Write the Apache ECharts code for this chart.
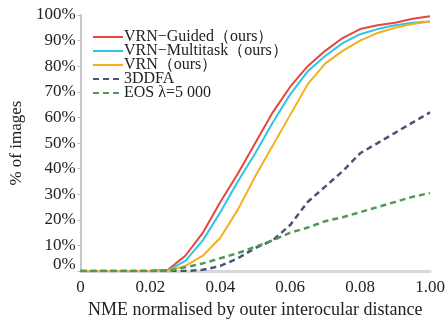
<!DOCTYPE html>
<html>
<head>
<meta charset="utf-8">
<script src="https://cdn.jsdelivr.net/npm/echarts@6/dist/echarts.min.js"></script>
<style>html,body{margin:0;padding:0;background:#fff}#c{width:448px;height:324px}</style>
</head>
<body>
<div id="c"></div>
<script>
const xValues = [0, 0.005, 0.01, 0.015, 0.02, 0.025, 0.03, 0.035, 0.04, 0.045, 0.05, 0.055, 0.06, 0.065, 0.07, 0.075, 0.08, 0.085, 0.09, 0.095, 0.1];
const vrnGuided    = [0, 0, 0, 0, 0, 0.5, 6, 15, 27, 38, 50, 62, 72, 80, 86, 91, 94.5, 96, 97, 98.5, 99.5];
const vrnMultitask = [0, 0, 0, 0, 0, 0.3, 4, 12, 23, 35, 46, 58, 69, 78, 84, 89, 92.5, 94.5, 96, 97, 97.5];
const vrn          = [0, 0, 0, 0, 0, 0.2, 2, 6, 13, 24, 37, 49, 61, 73, 81, 86, 90, 93, 95, 96.5, 97.5];
const ddfa         = [0, 0, 0, 0, 0, 0, 0, 0.5, 2, 5, 9, 12, 18, 27, 33, 39, 46, 50, 54, 58, 62];
const eos          = [0, 0, 0, 0, 0, 0, 1.5, 3, 5, 7, 9.5, 12, 15, 17, 19.5, 21, 23, 25, 27, 29, 30.5];
const seriesNames = ['VRN−Guided（ours）', 'VRN−Multitask（ours）', 'VRN（ours）', '3DDFA', 'EOS λ=5 000'];
const yTicks = [0, 10, 20, 30, 40, 50, 60, 70, 80, 90, 100];
const xTickLabels = {'0': '0', '0.02': '0.02', '0.04': '0.04', '0.06': '0.06', '0.08': '0.08', '0.1': '1.00'};

const font = "'Liberation Serif', 'Times New Roman', 'DejaVu Serif', serif";
const pair = arr => xValues.map((x, i) => [x, arr[i]]);
const mk = (name, data, color, dashed) => ({
  name, type: 'line', data: pair(data), symbol: 'none', showSymbol: false, smooth: false,
  lineStyle: {color, width: dashed ? 2.5 : 2, type: dashed ? [6, 4] : 'solid'},
  itemStyle: {color}
});

const chart = echarts.init(document.getElementById('c'), null, {renderer: 'canvas'});
chart.setOption({
  animation: false,
  backgroundColor: '#fff',
  grid: {left: 75, right: 18, top: 15, bottom: 47, containLabel: false},
  legend: {
    orient: 'vertical', left: 87, top: 24, itemWidth: 30, itemHeight: 14, itemGap: -2,
    itemStyle: {opacity: 0, borderWidth: 0},
    textStyle: {fontFamily: font, fontSize: 16, color: '#222', lineHeight: 15, padding: [0, 0, 0, -4]},
    data: seriesNames
  },
  xAxis: {
    type: 'value', min: 0, max: 0.1, interval: 0.02,
    name: 'NME normalised by outer interocular distance', nameLocation: 'middle', nameGap: 27,
    nameTextStyle: {fontFamily: font, fontSize: 18, color: '#222'},
    axisLine: {show: true, lineStyle: {color: '#d8d8d8', width: 3}},
    axisTick: {show: false},
    splitLine: {show: false},
    axisLabel: {fontFamily: font, fontSize: 17, color: '#222', margin: 8,
      formatter: v => { const k = String(Math.round(v * 100) / 100); return xTickLabels[k] !== undefined ? xTickLabels[k] : v.toFixed(2); }}
  },
  yAxis: {
    type: 'value', min: 0, max: 100, interval: 10,
    name: '% of images', nameLocation: 'middle', nameGap: 52, nameRotate: 90,
    nameTextStyle: {fontFamily: font, fontSize: 17, color: '#222'},
    axisLine: {show: true, lineStyle: {color: '#c8c8c8', width: 2}},
    axisTick: {show: true, length: 3, lineStyle: {color: '#bbb'}},
    splitLine: {show: false},
    axisLabel: {fontFamily: font, fontSize: 17, color: '#222', margin: 5,
      formatter: v => yTicks.includes(v) ? (v === 0 ? '{z|' + v + '%}' : v + '%') : '',
      rich: {z: {fontFamily: font, fontSize: 17, color: '#222', padding: [0, 0, 14, 0]}}}
  },
  series: [
    mk(seriesNames[0], vrnGuided, '#e8453c', false),
    mk(seriesNames[1], vrnMultitask, '#2ec4ea', false),
    mk(seriesNames[2], vrn, '#f3b01e', false),
    mk(seriesNames[3], ddfa, '#4e5278', true),
    mk(seriesNames[4], eos, '#4f9a58', true)
  ]
});
</script>
</body>
</html>
